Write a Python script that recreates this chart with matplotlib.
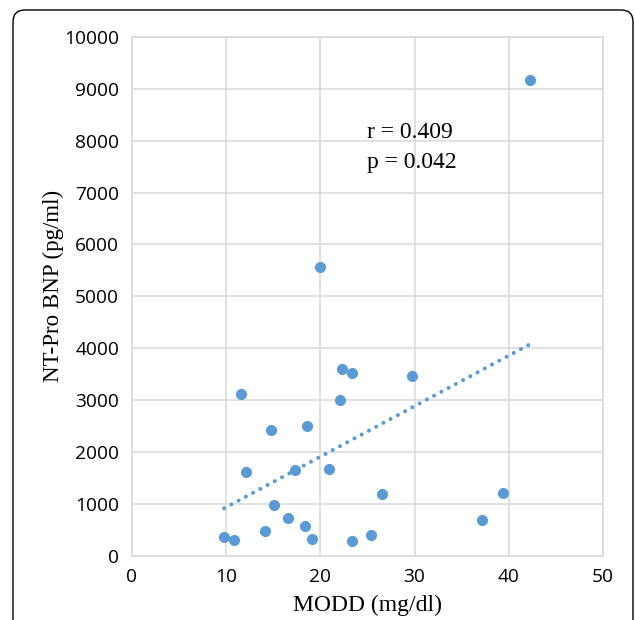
import numpy as np
import matplotlib.pyplot as plt
from matplotlib.patches import FancyBboxPatch
from matplotlib.transforms import IdentityTransform

# MODD (mg/dl) vs NT-Pro BNP (pg/ml)
modd = [20.0, 11.6, 22.3, 23.4, 29.7, 22.1, 14.8, 18.6, 12.1, 17.3, 20.9, 26.5,
        39.4, 15.1, 16.6, 18.4, 37.2, 9.8, 10.9, 14.1, 19.1, 23.4, 25.4, 42.2]
bnp = [5570, 3110, 3600, 3520, 3455, 3005, 2430, 2505, 1610, 1650, 1680, 1190,
       1200, 975, 725, 575, 690, 365, 300, 480, 325, 290, 395, 9170]

x_ticks = [0, 10, 20, 30, 40, 50]
y_ticks = [0, 1000, 2000, 3000, 4000, 5000, 6000, 7000, 8000, 9000, 10000]
stats_text = ["r = 0.409", "p = 0.042"]

blue = '#5B9BD5'
grid_col = '#D9D9D9'
tick_font = 'Open Sans'
label_font = 'Liberation Serif'

fig = plt.figure(figsize=(6.35, 6.2), dpi=100)
ax = fig.add_axes([0.2074, 0.1037, 0.7425, 0.8366])

ax.scatter(modd, bnp, s=64, color=blue, zorder=3, linewidths=0)

# linear trend line (dotted)
slope, intercept = np.polyfit(modd, bnp, 1)
xs = np.array([min(modd), max(modd)])
ax.plot(xs, slope * xs + intercept, color=blue, lw=2.9,
        linestyle=(0, (0.01, 2.03)), dash_capstyle='round', zorder=2)

ax.set_xlim(0, 50)
ax.set_ylim(0, 10000)
ax.set_xticks(x_ticks)
ax.set_yticks(y_ticks)
ax.grid(True, color=grid_col, lw=1.1, zorder=0)
ax.set_axisbelow(True)
for sp in ax.spines.values():
    sp.set_color(grid_col)
    sp.set_linewidth(1.1)
ax.tick_params(length=0, pad=9)
for lab in ax.get_xticklabels() + ax.get_yticklabels():
    lab.set_fontfamily(tick_font)
    lab.set_fontsize(13.8)
    lab.set_color('black')

ax.set_xlabel("MODD (mg/dl)", fontfamily=label_font, fontsize=17, labelpad=6)
ax.set_ylabel("NT-Pro BNP (pg/ml)", fontfamily=label_font, fontsize=16.5)
ax.yaxis.set_label_coords(-0.1435, 0.52)

ax.text(24.95, 8060, stats_text[0], fontfamily=label_font, fontsize=17, va='baseline')
ax.text(24.95, 7480, stats_text[1], fontfamily=label_font, fontsize=17, va='baseline')

# rounded frame around the panel (open at the bottom)
frame = FancyBboxPatch((13, -100), 620, 710, boxstyle="round,pad=0,rounding_size=12",
                       transform=IdentityTransform(), fill=False, ec='black', lw=1.0)
fig.patches.append(frame)

fig.savefig('out.png', dpi=100)
